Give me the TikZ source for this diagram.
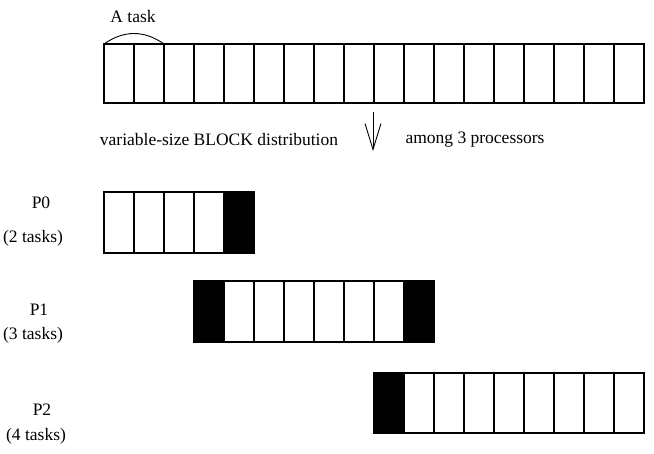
\documentclass[tikz,border=0pt]{standalone}
\usepackage{fontspec}
\setmainfont{Liberation Serif}
\usetikzlibrary{arrows.meta,positioning}

\begin{document}
\begin{tikzpicture}[
  x=1pt, y=-1pt,
  cell/.style={rectangle, draw, line width=1.1pt, minimum width=30pt, minimum height=59pt, inner sep=0pt, outer sep=0pt},
  blk/.style={cell, fill=black},
  lbl/.style={font=\fontsize{17.5}{20}\selectfont, inner sep=0pt}
]
  \useasboundingbox (0,0) rectangle (654,453);

  % all tasks, two cells each
  \node[lbl] (tasklbl) at (133,17) {A task};
  \foreach \i in {1,...,18}
    \node[cell] (t\i) at (89+30*\i,73.5) {};
  \draw[line width=0.9pt] (t1.north west) .. controls (124,30) and (144,30) .. (t2.north east);

  % distribution
  \node[lbl] (distlbl) at (219,140) {variable-size BLOCK distribution};
  \node[lbl] (amonglbl) at (475,140) {among 3 processors};
  \coordinate (arrtop) at (373,112);
  \coordinate (arrtip) at (373,151);
  \draw[line width=0.9pt, -{Straight Barb[length=26pt,width=16pt]}] (arrtop) -- (arrtip);

  % P0
  \node[lbl] (p0) at (41,203) {P0};
  \node[lbl] (p0n) at (33,238) {(2 tasks)};
  \foreach \i in {1,...,4}
    \node[cell, minimum height=61pt] (p0c\i) at (89+30*\i,222.5) {};
  \node[blk, minimum height=61pt] (p0b) at (239,222.5) {};

  % P1
  \node[lbl] (p1) at (39,310) {P1};
  \node[lbl] (p1n) at (33,335) {(3 tasks)};
  \node[blk, minimum height=61pt] (p1bl) at (209,311.5) {};
  \foreach \i in {1,...,6}
    \node[cell, minimum height=61pt] (p1c\i) at (209+30*\i,311.5) {};
  \node[blk, minimum height=61pt] (p1br) at (419,311.5) {};

  % P2
  \node[lbl] (p2) at (42,410) {P2};
  \node[lbl] (p2n) at (36,436) {(4 tasks)};
  \node[blk, minimum height=60pt] (p2b) at (389,403) {};
  \foreach \i in {1,...,8}
    \node[cell, minimum height=60pt] (p2c\i) at (389+30*\i,403) {};
\end{tikzpicture}
\end{document}
